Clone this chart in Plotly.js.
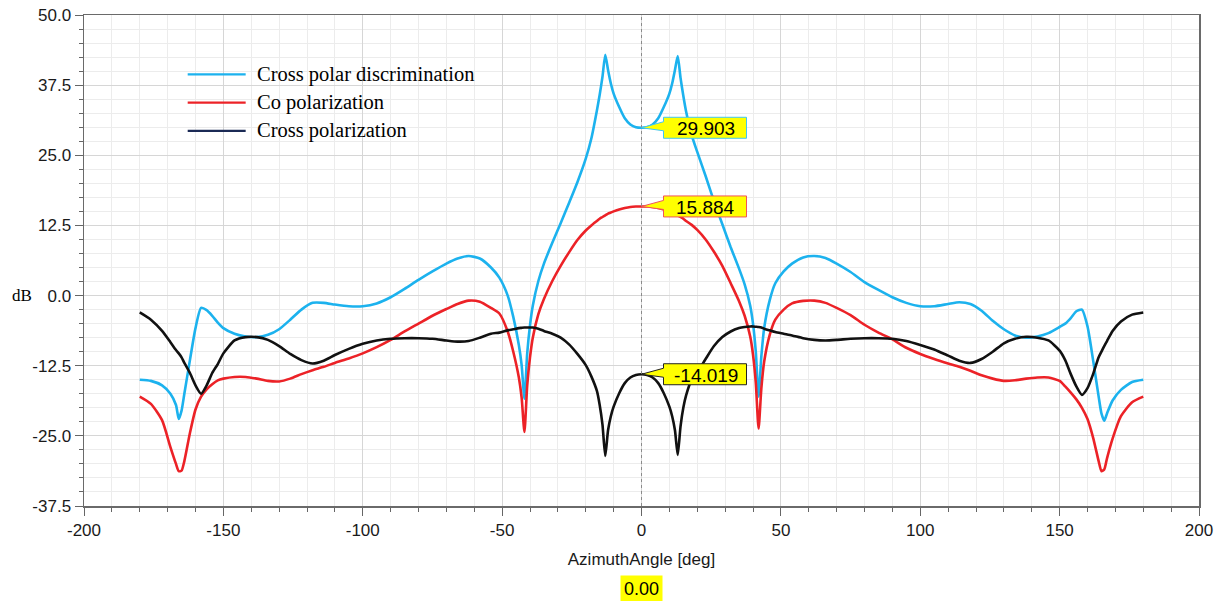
<!DOCTYPE html>
<html>
<head>
<meta charset="utf-8">
<script src="https://cdn.plot.ly/plotly-3.0.1.min.js"></script>
<style>
  html, body { margin: 0; padding: 0; background: #ffffff; }
  #chart { width: 1216px; height: 601px; }
</style>
</head>
<body>
<div id="chart"></div>
<script>
// Azimuth cut of the antenna pattern, -180..180 deg
const angle = [
  -180,-176,-172,-169,-167,-166,-165,-164,-162,-160,-158,-156,-154,-152,-150,-146,-142,-138,-134,-130,
  -126,-122,-118,-114,-110,-105,-100,-95,-90,-85,-80,-75,-70,-66,-62,-58,-54,-51,-48,-46,
  -44,-43,-42,-41,-40,-39,-37,-35,-32,-29,-26,-23,-20,-18,-16,-15,-14,-13,-12,-11,
  -10,-8,-6,-4,-2,0,
  2,4,6,8,10,11,12,13,14,15,16,18,20,23,26,29,32,35,37,39,
  40,41,42,43,44,46,48,51,54,58,62,66,70,75,80,85,90,95,100,105,
  110,114,118,122,126,130,134,138,142,146,150,152,154,156,158,160,162,164,165,166,
  167,169,172,176,180
];

// Cross polar discrimination [dB]
const xpd = [
  -15.0,-15.2,-16.0,-17.5,-19.5,-22.0,-20.5,-17.5,-11.5,-5.8,-2.2,-2.6,-3.6,-4.8,-5.8,-6.8,-7.3,-7.4,-7.0,-6.0,
  -4.3,-2.5,-1.3,-1.3,-1.6,-1.9,-1.9,-1.4,-0.3,1.2,2.8,4.3,5.7,6.6,7.05,6.6,5.0,3.2,0.0,-3.8,
  -8.8,-12.4,-18.4,-10.3,-5.3,-1.8,2.6,5.7,9.4,12.9,16.5,20.2,24.4,28.0,33.0,35.8,39.0,42.9,40.2,37.8,
  36.0,33.6,31.6,30.5,30.0,29.903,
  30.0,30.5,31.6,33.6,36.0,37.8,40.2,42.7,38.8,35.6,32.8,28.6,25.6,21.3,16.8,12.7,8.6,4.8,2.0,-1.8,
  -5.0,-10.0,-18.0,-10.8,-5.8,-0.8,2.2,4.3,5.7,6.8,7.05,6.7,5.7,4.2,2.4,1.0,-0.3,-1.3,-1.9,-1.9,
  -1.5,-1.2,-1.5,-2.7,-4.5,-6.0,-7.1,-7.5,-7.3,-6.7,-5.6,-5.0,-4.0,-2.8,-2.5,-5.5,-11.5,-18.0,-21.0,-22.3,
  -21.0,-18.7,-16.8,-15.4,-15.0
];

// Co polarization [dB]
const coPol = [
  -18.0,-19.3,-22.2,-27.0,-30.0,-31.3,-31.2,-29.5,-24.5,-20.3,-18.0,-16.7,-15.8,-15.1,-14.8,-14.5,-14.5,-14.8,-15.2,-15.3,
  -14.8,-14.0,-13.3,-12.7,-12.0,-11.2,-10.3,-9.2,-7.9,-6.4,-5.0,-3.6,-2.4,-1.5,-0.9,-1.1,-2.2,-3.2,-6.4,-10.0,
  -14.6,-18.2,-24.3,-16.0,-11.0,-7.5,-3.3,-0.6,2.6,5.3,7.7,9.9,11.6,12.5,13.3,13.7,14.0,14.3,14.6,14.8,
  15.0,15.35,15.6,15.78,15.86,15.884,
  15.86,15.78,15.6,15.35,15.0,14.8,14.55,14.3,14.0,13.7,13.3,12.6,11.7,10.0,7.8,5.3,2.2,-1.0,-3.6,-7.3,
  -10.5,-15.5,-23.7,-16.5,-11.8,-7.0,-4.3,-2.5,-1.4,-0.95,-0.9,-1.3,-2.2,-3.5,-5.2,-6.6,-7.8,-9.3,-10.4,-11.3,
  -12.1,-12.7,-13.4,-14.2,-14.8,-15.2,-15.1,-14.8,-14.6,-14.6,-15.2,-16.2,-17.3,-18.5,-20.0,-22.0,-25.3,-29.5,-31.3,-31.0,
  -29.0,-25.5,-21.5,-19.0,-18.0
];

// Cross polarization [dB]
const crossPol = [
  -3.0,-4.3,-6.3,-8.3,-9.7,-10.3,-11.0,-12.0,-13.8,-16.0,-17.5,-16.0,-13.8,-12.2,-10.3,-8.0,-7.4,-7.4,-7.9,-9.0,
  -10.4,-11.5,-12.1,-11.6,-10.6,-9.5,-8.6,-8.0,-7.7,-7.6,-7.6,-7.7,-8.0,-8.2,-8.1,-7.5,-6.8,-6.6,-6.2,-6.0,
  -5.8,-5.75,-5.7,-5.7,-5.7,-5.7,-5.9,-6.3,-6.8,-7.5,-8.7,-10.4,-12.4,-14.4,-17.0,-19.5,-23.0,-28.6,-24.0,-21.5,
  -19.8,-17.4,-15.6,-14.6,-14.15,-14.019,
  -14.15,-14.6,-15.6,-17.4,-19.8,-21.5,-24.0,-28.4,-23.3,-20.0,-17.8,-15.0,-13.7,-11.3,-9.0,-7.4,-6.4,-5.8,-5.6,-5.5,
  -5.5,-5.55,-5.6,-5.7,-5.9,-6.2,-6.5,-6.8,-7.1,-7.6,-7.9,-8.0,-7.9,-7.7,-7.6,-7.6,-7.7,-8.1,-8.8,-9.6,
  -10.7,-11.6,-12.0,-11.3,-10.0,-8.5,-7.7,-7.35,-7.5,-8.0,-9.8,-11.5,-14.0,-16.2,-17.7,-16.5,-14.0,-11.0,-10.0,-9.0,
  -8.1,-6.3,-4.6,-3.4,-3.0
];

// Axis tick labels
const xTickVals = [-200, -150, -100, -50, 0, 50, 100, 150, 200];
const xTickText = ['-200', '-150', '-100', '-50', '0', '50', '100', '150', '200'];
const yTickVals = [-37.5, -25, -12.5, 0, 12.5, 25, 37.5, 50];
const yTickText = ['-37.5', '-25.0', '-12.5', '0.0', '12.5', '25.0', '37.5', '50.0'];

const seriesNames = ['Cross polar discrimination', 'Co polarization', 'Cross polarization'];
const seriesColors = ['#1cb2ee', '#ec2227', '#111111'];
const legendColors = ['#1cb2ee', '#ec2227', '#1b2a55'];
const seriesValues = [xpd, coPol, crossPol];

// Marker readout at the cursor angle
const cursorAngle = 0;
const cursorLabel = '0.00';
const readoutValues = [29.903, 15.884, -14.019];
const readoutBorders = ['#3fc6f2', '#f0545a', '#222222'];

const traces = seriesValues.map((vals, i) => ({
  type: 'scatter',
  mode: 'lines',
  x: angle,
  y: vals,
  name: seriesNames[i],
  line: { color: seriesColors[i], width: 2.6, shape: 'spline', smoothing: 0.6 },
  showlegend: false,
  hoverinfo: 'x+y'
}));

const shapes = [];
const annotations = [];

// dotted cursor line
shapes.push({
  type: 'line', xref: 'x', yref: 'paper',
  x0: cursorAngle, x1: cursorAngle, y0: 0, y1: 1,
  line: { color: '#8a8a8a', width: 1, dash: 'dot' },
  layer: 'above'
});

// callout boxes pointing at each curve's value on the cursor
readoutValues.forEach((v, i) => {
  shapes.push({
    type: 'path', xref: 'x', yref: 'y',
    xsizemode: 'pixel', ysizemode: 'pixel',
    xanchor: cursorAngle, yanchor: v,
    path: 'M 0 0 L 22 6 L 22 10.5 L 105 10.5 L 105 -10.5 L 22 -10.5 L 22 -3 Z',
    fillcolor: '#ffff00',
    line: { color: readoutBorders[i], width: 1 },
    layer: 'above'
  });
  annotations.push({
    x: cursorAngle, y: v, xref: 'x', yref: 'y',
    text: v.toFixed(3), showarrow: false,
    xanchor: 'center', yanchor: 'middle',
    xshift: 64, yshift: -1,
    font: { family: 'Liberation Sans, Arial, sans-serif', size: 19, color: '#000000' }
  });
});

// cursor angle readout under the axis
annotations.push({
  x: cursorAngle, xref: 'x', y: -0.1405, yref: 'paper',
  text: cursorLabel, showarrow: false,
  xanchor: 'center', yanchor: 'top',
  bgcolor: '#ffff00', borderpad: 3,
  font: { family: 'Liberation Sans, Arial, sans-serif', size: 18, color: '#000000' }
});

// y-axis unit
annotations.push({
  x: -0.056, xref: 'paper', y: 0, yref: 'y',
  text: 'dB', showarrow: false, xanchor: 'center', yanchor: 'middle',
  font: { family: 'Liberation Serif, Times New Roman, serif', size: 17, color: '#000000' }
});

// legend drawn as line samples and labels
seriesNames.forEach((name, i) => {
  const yy = 0.879 - i * 0.0575;
  shapes.push({
    type: 'line', xref: 'paper', yref: 'paper',
    x0: 0.093, x1: 0.145, y0: yy, y1: yy,
    line: { color: legendColors[i], width: 2.2 }
  });
  annotations.push({
    x: 0.1535, xref: 'paper', y: yy, yref: 'paper',
    text: name, showarrow: false, xanchor: 'left', yanchor: 'middle',
    font: { family: 'Liberation Serif, Times New Roman, serif', size: 20.5, color: '#000000' }
  });
});

const tickFont = { family: 'Liberation Sans, Arial, sans-serif', size: 17, color: '#1a1a1a' };

const layout = {
  width: 1216, height: 601,
  margin: { l: 84, r: 17, t: 15, b: 95 },
  paper_bgcolor: '#ffffff', plot_bgcolor: '#ffffff',
  showlegend: false,
  xaxis: {
    range: [-200, 200], tickmode: 'array', tickvals: xTickVals, ticktext: xTickText,
    ticks: 'outside', ticklen: 8, tickwidth: 1, tickcolor: '#666666',
    showline: true, linecolor: '#6a6a6a', linewidth: 1.5, mirror: true,
    showgrid: true, gridcolor: '#d6d6d6', gridwidth: 1,
    zeroline: false,
    tickfont: tickFont,
    minor: { tick0: 0, dtick: 10, ticks: 'outside', ticklen: 4, tickcolor: '#666666', showgrid: true, gridcolor: '#ececec', gridwidth: 1 },
    title: { text: 'AzimuthAngle [deg]', font: { family: 'Liberation Sans, Arial, sans-serif', size: 17, color: '#1a1a1a' }, standoff: 14 }
  },
  yaxis: {
    range: [-37.5, 50], tickmode: 'array', tickvals: yTickVals, ticktext: yTickText,
    ticks: 'outside', ticklen: 8, tickwidth: 1, tickcolor: '#666666',
    showline: true, linecolor: '#6a6a6a', linewidth: 1.5, mirror: true,
    showgrid: true, gridcolor: '#d6d6d6', gridwidth: 1,
    zeroline: false,
    tickfont: tickFont,
    minor: { tick0: 0, dtick: 2.5, ticks: 'outside', ticklen: 4, tickcolor: '#666666', showgrid: true, gridcolor: '#ececec', gridwidth: 1 }
  },
  shapes: shapes,
  annotations: annotations
};

Plotly.newPlot('chart', traces, layout, { displayModeBar: false, staticPlot: true });
</script>
</body>
</html>
